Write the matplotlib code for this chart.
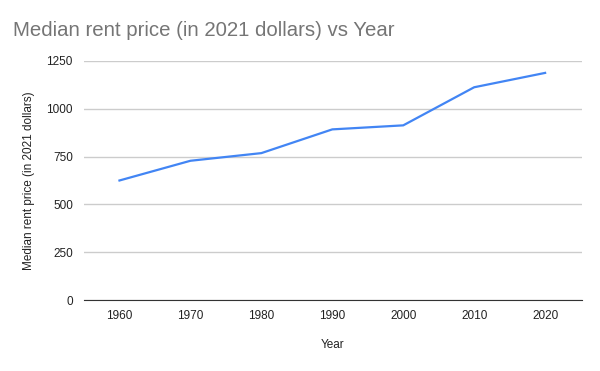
import matplotlib
matplotlib.use("Agg")
import matplotlib.pyplot as plt

years = [1960, 1970, 1980, 1990, 2000, 2010, 2020]
rent = [625, 728, 768, 892, 913, 1112, 1187]
yticks = [0, 250, 500, 750, 1000, 1250]

plt.rcParams['font.family'] = ['Liberation Sans', 'DejaVu Sans']

fig = plt.figure(figsize=(6, 3.71), dpi=100)
ax = fig.add_axes([0.14, 0.191, 0.83, 0.645])
ax.plot(years, rent, color='#4285F4', linewidth=1.6)
ax.set_xlim(1955, 2025.2)
ax.set_ylim(0, 1250)
ax.set_yticks(yticks)
ax.set_xticks(years)
ax.grid(axis='y', color='#cccccc', linewidth=1)
ax.set_axisbelow(True)
for s in ['top', 'right', 'left']:
    ax.spines[s].set_visible(False)
ax.spines['bottom'].set_color('#333333')
ax.tick_params(axis='both', length=0, labelsize=8.5, colors='#222222')
ax.tick_params(axis='x', pad=7)
ax.tick_params(axis='y', pad=8)
ax.set_xlabel('Year', fontsize=8.5, color='#222222', labelpad=12)
ax.set_ylabel('Median rent price (in 2021 dollars)', fontsize=8.5, color='#222222', labelpad=8)
fig.text(13/600, 1 - 31/371, 'Median rent price (in 2021 dollars) vs Year', fontsize=14.7, color='#757575', va='center', ha='left')
fig.savefig('out.png', dpi=100)
